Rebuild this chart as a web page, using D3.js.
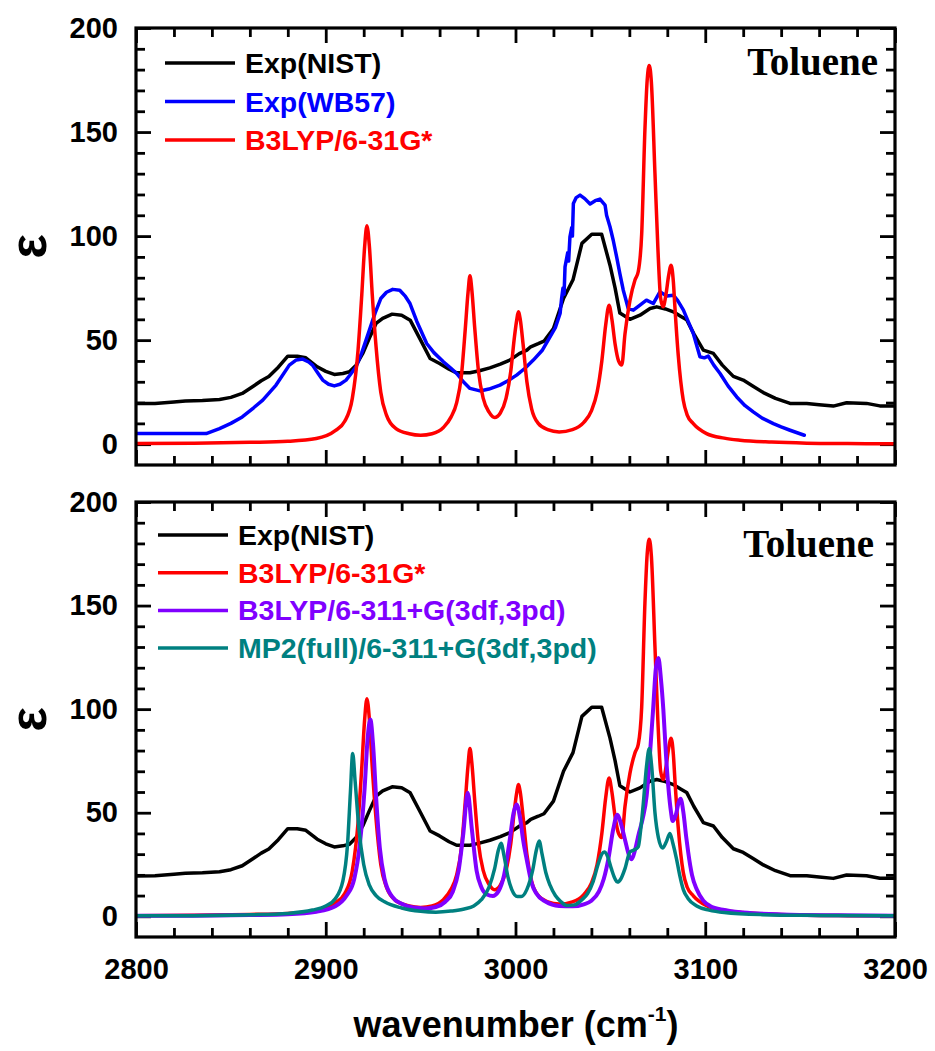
<!DOCTYPE html>
<html><head><meta charset="utf-8">
<script src="https://cdn.jsdelivr.net/npm/d3@7"></script>
<style>body{margin:0;background:#fff} svg{display:block}</style>
</head><body>
<svg id="chart" width="935" height="1051"></svg>
<script>
// ---------- data ----------
const xDomain = [2800, 3200];
const yDomain = [-10, 200];
const xMajorTicks = [2800, 2900, 3000, 3100, 3200];
const yMajorTicks = [0, 50, 100, 150, 200];
const molecule = "Toluene";
const yLabelText = "ε";
const xLabelText = "wavenumber (cm";
const xLabelSup = "-1";

const topLegend = ["Exp(NIST)", "Exp(WB57)", "B3LYP/6-31G*"];
const bottomLegend = ["Exp(NIST)", "B3LYP/6-31G*", "B3LYP/6-311+G(3df,3pd)", "MP2(full)/6-311+G(3df,3pd)"];

// [wavenumber, epsilon]
const expNIST = [[2800,19.5],[2810,19.6],[2820,20.3],[2826,20.8],[2835,21],[2844,21.5],[2850,22.5],[2856,24.4],[2862,28],[2866,30.5],[2870,32.5],[2875,37],[2880,42.3],[2885,42.3],[2889.5,41.5],[2895.5,37.2],[2900,35],[2904.5,33.5],[2909,34],[2912.5,34.8],[2916,38],[2919.5,43.6],[2923,51],[2926.5,58],[2930,60.5],[2935,62.5],[2940,62],[2944.5,59.6],[2950,50],[2955,41.2],[2960,38.8],[2965,36],[2969,34.3],[2976,34.3],[2981,35.3],[2986.5,36.7],[2992,38.5],[2997,40.4],[3002,43.5],[3006,45.2],[3008,46.8],[3012,48.3],[3015,49.5],[3020,55.6],[3025.3,70],[3030.3,79],[3035,96.5],[3040.2,100.9],[3045.4,100.9],[3049.8,86],[3052.5,75],[3055,63],[3060.3,60],[3065.6,62],[3070.9,65.2],[3074.4,66],[3079,65],[3083.2,63.6],[3087,61.5],[3090.2,59.8],[3094,53],[3099,45.2],[3104.3,43.6],[3109,38],[3114.8,32.6],[3120,30.8],[3125,28],[3130.6,24.8],[3137,22],[3144.7,19.6],[3153.5,19.6],[3160,19],[3167.5,18.3],[3174.5,19.9],[3185,19.6],[3192,18.4],[3200,18.4]];

const expWB57 = [[2800,5.1],[2837,5.1],[2844,7.5],[2850,10],[2856,13.1],[2862,17.5],[2866.8,21.2],[2873.8,28.4],[2880.8,38],[2884.5,40.5],[2887.9,40.9],[2891,39.5],[2893,38],[2896,34],[2898.4,30.8],[2901.5,28.8],[2904.5,28],[2907.5,28.8],[2910.7,30.8],[2913,33.5],[2916,37.2],[2919,44],[2923,54.8],[2926,63],[2929,70],[2932,73],[2935.3,74.4],[2939,74],[2942,71],[2944.4,67.6],[2948,59],[2953.2,48.4],[2957,44],[2962,39.6],[2966,36.5],[2969,34],[2972.5,30],[2976,26.8],[2981.3,25.6],[2986,26.5],[2991.8,28.4],[2996,30.5],[3000.6,33.2],[3005,36.5],[3009.4,40.4],[3014,45],[3018.2,51.6],[3021,56],[3023.5,62.8],[3024.3,70],[3025,75],[3025.6,72],[3026.1,85.2],[3027.5,92],[3028,88],[3028.7,99.7],[3029.6,104],[3030,100],[3030.5,115.7],[3032,118.5],[3034,119.7],[3036.5,118],[3039.3,115.4],[3042,117],[3044.5,117.8],[3047.2,114.9],[3048,110],[3049.8,104.5],[3051.5,98],[3053.3,90],[3055,82],[3056.8,74],[3058,70],[3059.4,65.2],[3062.1,64.4],[3065.6,66.8],[3069,69.2],[3072.6,67.6],[3076.1,73.2],[3079.7,71.2],[3083.2,71.6],[3085.5,69],[3088.5,64.4],[3091,59],[3093.7,53.2],[3097.2,42],[3099.5,41.5],[3101.6,42.3],[3104.5,38],[3107.8,34],[3112,28],[3116.6,22.7],[3121,18.5],[3125.3,15.5],[3130,12.5],[3135.9,9.9],[3140,8.3],[3144.7,6.7],[3152.2,4.3]];

const b3lyp631 = [[2800,0.3],[2830,0.5],[2860,0.9],[2880,1.4],[2895,2.7],[2905,6.5],[2910,11],[2914,22],[2917,45],[2919,72],[2920.5,95],[2921.7,105],[2923,95],[2924.5,72],[2926.5,47],[2929,25],[2932,14],[2937,7.5],[2944,5],[2950,4.3],[2956,5],[2962,8],[2966,13],[2969,20],[2971.5,33],[2973.5,55],[2975,73],[2976,81],[2977,74],[2978.5,56],[2980.5,35],[2983,22],[2986,15.5],[2989,12.8],[2992,15],[2995,22],[2997.5,35],[2999.5,52],[3000.7,60],[3001.5,63.6],[3002.5,60],[3004,48],[3006,30],[3008.5,17],[3012,10],[3017,7],[3023,5.9],[3030,7],[3036,10.5],[3040,16],[3043,25],[3045.5,40],[3047.5,57],[3049.3,66.8],[3050.8,60],[3052.5,48],[3054.3,40],[3056,38],[3057.7,53],[3060.3,69],[3063,79],[3064.7,83],[3066.5,101],[3068.2,151],[3069.4,175],[3070.5,182],[3071.6,174],[3073.5,130],[3075,95],[3076.5,70],[3077.8,66],[3079.3,72],[3080.7,81],[3082,86],[3083.2,78],[3084,66],[3085.8,42.4],[3088.4,21.2],[3090.5,14],[3093.7,9.9],[3100.7,5.1],[3110,2.9],[3118.3,1.9],[3135,1],[3153.5,0.5],[3175,0.3],[3200,0.2]];

const b3lyp6311 = [[2800,0.2],[2830,0.3],[2860,0.6],[2880,1],[2895,2.2],[2905,4.8],[2911,10],[2915,18],[2918,35],[2920.5,62],[2922,85],[2923.5,95],[2925,82],[2926.5,58],[2928.5,33],[2931,18],[2935,9.5],[2940,6],[2946,4.2],[2952,3.8],[2958,4.5],[2963,7],[2967,12],[2970,22],[2972.5,40],[2974.8,59.6],[2977,42],[2979.5,22],[2982,14],[2985,10.5],[2988,9.8],[2991,12],[2994,20],[2997,37],[2999,50],[3000.6,54],[3002.5,47],[3004,37],[3006,27],[3008.5,16],[3011,11],[3016,7],[3023,5],[3030,4.8],[3036,5.8],[3040,7.5],[3044,12],[3046.5,18],[3049,28],[3051.5,42],[3053.7,49],[3055.5,45],[3057.7,37],[3060,29],[3061.2,27.5],[3063,32],[3065,40],[3067,47],[3069.1,58],[3071,80],[3072.6,101],[3074,120],[3075.3,124.7],[3076.6,115],[3077.9,100],[3079.3,78],[3080.5,63],[3082,50],[3082.8,46],[3084.5,49],[3086,55],[3087,56.7],[3088.5,50],[3090,38],[3091,31],[3093,20],[3095.5,13],[3099,7.5],[3102.5,5],[3110,3],[3120,1.8],[3140,0.9],[3170,0.5],[3200,0.3]];

const mp2Full = [[2800,0.2],[2830,0.3],[2860,0.7],[2880,1.4],[2893,3],[2900,5],[2905,8.5],[2909,17],[2911.5,35],[2913,60],[2914.2,78.6],[2915.5,65],[2917.5,42],[2920,25],[2923,15],[2926.5,10],[2931,7],[2940,4],[2950,2.4],[2958,2],[2966,2.5],[2973,3.5],[2978,5],[2982,8],[2986,14],[2989,23],[2991,32],[2992.4,35.2],[2994,29],[2996,19],[2998,13],[3001,9.5],[3003,9.5],[3006,13],[3009,22],[3011,32],[3012.5,36.3],[3014,30],[3016,21],[3018.2,15],[3021,10],[3024,7],[3027,5.2],[3031,5.5],[3035,8],[3038,11],[3041,17],[3043.5,25],[3045.5,30],[3046.8,31],[3048.5,29],[3050.5,23],[3052.5,18],[3053.7,16.5],[3055.5,18],[3057.7,23],[3060.3,31],[3062.5,32],[3064.7,33.5],[3066,42],[3067.4,55],[3069,72],[3070.5,81],[3071.8,72],[3073.5,50],[3075.3,38],[3077.5,33],[3079.5,36],[3081.4,40],[3083,35],[3084.9,27.5],[3086.5,20],[3088.4,13],[3091,8.5],[3095.5,5],[3102,3],[3110,1.8],[3130,0.8],[3160,0.4],[3200,0.2]];

// ---------- drawing ----------
const L = 136, R = 895;
const svg = d3.select("#chart");
const sans = "'Liberation Sans', Arial, Helvetica, sans-serif";
const serif = "'Liberation Serif', 'Times New Roman', serif";
const colors = {
  "Exp(NIST)": "#000000",
  "Exp(WB57)": "#0000ff",
  "B3LYP/6-31G*": "#ff0000",
  "B3LYP/6-311+G(3df,3pd)": "#8000ff",
  "MP2(full)/6-311+G(3df,3pd)": "#008080"
};
const dataOf = {
  "Exp(NIST)": expNIST,
  "Exp(WB57)": expWB57,
  "B3LYP/6-31G*": b3lyp631,
  "B3LYP/6-311+G(3df,3pd)": b3lyp6311,
  "MP2(full)/6-311+G(3df,3pd)": mp2Full
};
const smooth = {"Exp(NIST)": false, "Exp(WB57)": false};

const x = d3.scaleLinear().domain(xDomain).range([L, R]);
const xMinor = d3.range(xDomain[0], xDomain[1] + 1, 20).filter(v => !xMajorTicks.includes(v));
const yMinor = d3.range(0, 201, 10).filter(v => !yMajorTicks.includes(v));

function styleAxis(g) {
  g.select(".domain").remove();
  g.selectAll(".tick line").attr("stroke", "#000").attr("stroke-width", 2.8);
  g.selectAll(".tick text")
    .attr("font-family", sans).attr("font-weight", "bold")
    .attr("font-size", 29).attr("fill", "#000");
}

function panel(cfg) {
  const y = d3.scaleLinear().domain(yDomain).range([cfg.bottom, cfg.top]);
  const clipId = "clip" + cfg.id;
  svg.append("clipPath").attr("id", clipId).append("rect")
    .attr("x", L).attr("y", cfg.top).attr("width", R - L).attr("height", cfg.bottom - cfg.top);

  const MAJ = -15, MIN = -9;
  styleAxis(svg.append("g").attr("transform", `translate(0,${cfg.bottom})`)
    .call(d3.axisBottom(x).tickValues(xMajorTicks).tickSize(MAJ).tickPadding(21)
      .tickFormat(cfg.xLabels ? d3.format("d") : () => "")));
  styleAxis(svg.append("g").attr("transform", `translate(0,${cfg.bottom})`)
    .call(d3.axisBottom(x).tickValues(xMinor).tickSize(MIN).tickFormat(() => "")));
  styleAxis(svg.append("g").attr("transform", `translate(0,${cfg.top})`)
    .call(d3.axisTop(x).tickValues(xMajorTicks).tickSize(MAJ).tickFormat(() => "")));
  styleAxis(svg.append("g").attr("transform", `translate(0,${cfg.top})`)
    .call(d3.axisTop(x).tickValues(xMinor).tickSize(MIN).tickFormat(() => "")));
  styleAxis(svg.append("g").attr("transform", `translate(${L},0)`)
    .call(d3.axisLeft(y).tickValues(yMajorTicks).tickSize(MAJ).tickPadding(18).tickFormat(d3.format("d"))));
  styleAxis(svg.append("g").attr("transform", `translate(${L},0)`)
    .call(d3.axisLeft(y).tickValues(yMinor).tickSize(MIN).tickFormat(() => "")));
  styleAxis(svg.append("g").attr("transform", `translate(${R},0)`)
    .call(d3.axisRight(y).tickValues(yMajorTicks).tickSize(MAJ).tickFormat(() => "")));
  styleAxis(svg.append("g").attr("transform", `translate(${R},0)`)
    .call(d3.axisRight(y).tickValues(yMinor).tickSize(MIN).tickFormat(() => "")));

  const gl = svg.append("g").attr("clip-path", `url(#${clipId})`);
  cfg.drawOrder.forEach(name => {
    const line = d3.line().x(d => x(d[0])).y(d => y(d[1]))
      .curve(smooth[name] === false ? d3.curveLinear : d3.curveMonotoneX);
    gl.append("path").datum(dataOf[name])
      .attr("d", line).attr("fill", "none")
      .attr("stroke", colors[name])
      .attr("stroke-width", name === "B3LYP/6-311+G(3df,3pd)" ? 4 : 3.5)
      .attr("stroke-linejoin", "round").attr("stroke-linecap", "round");
  });

  svg.append("rect").attr("x", L).attr("y", cfg.top)
    .attr("width", R - L).attr("height", cfg.bottom - cfg.top)
    .attr("fill", "none").attr("stroke", "#000").attr("stroke-width", 3.2);

  const lg = svg.append("g");
  cfg.legend.forEach((name, i) => {
    const cy = cfg.legY0 + i * cfg.legDy;
    lg.append("line").attr("x1", cfg.legX1).attr("x2", cfg.legX2)
      .attr("y1", cy).attr("y2", cy)
      .attr("stroke", colors[name]).attr("stroke-width", 3.5);
    lg.append("text").attr("x", cfg.legX2 + 10).attr("y", cy + 10)
      .attr("font-family", sans).attr("font-weight", "bold").attr("font-size", 28.5)
      .attr("fill", colors[name]).text(name);
  });

  svg.append("text").attr("x", cfg.titleX).attr("y", cfg.titleY)
    .attr("text-anchor", "end").attr("font-family", serif).attr("font-weight", "bold")
    .attr("font-size", 39).attr("fill", "#000").text(molecule);

  svg.append("text")
    .attr("transform", `translate(46,${(cfg.top + cfg.bottom) / 2}) rotate(-90)`)
    .attr("text-anchor", "middle").attr("font-family", sans).attr("font-weight", "bold")
    .attr("font-size", 52).attr("fill", "#000").text(yLabelText);
}

panel({id: "top", top: 28, bottom: 465, xLabels: false,
  drawOrder: ["Exp(NIST)", "Exp(WB57)", "B3LYP/6-31G*"],
  legend: topLegend, legX1: 165, legX2: 235, legY0: 63, legDy: 38.5,
  titleX: 878, titleY: 75});
panel({id: "bot", top: 502, bottom: 937, xLabels: true,
  drawOrder: ["Exp(NIST)", "B3LYP/6-31G*", "B3LYP/6-311+G(3df,3pd)", "MP2(full)/6-311+G(3df,3pd)"],
  legend: bottomLegend, legX1: 158, legX2: 228, legY0: 535, legDy: 37.7,
  titleX: 874, titleY: 557});

const xl = svg.append("text").attr("x", 516).attr("y", 1037)
  .attr("text-anchor", "middle").attr("font-family", sans).attr("font-weight", "bold")
  .attr("font-size", 36).attr("fill", "#000");
xl.append("tspan").text(xLabelText);
xl.append("tspan").attr("font-size", 21).attr("dy", -16).text(xLabelSup);
xl.append("tspan").attr("dy", 16).text(")");
</script>
</body></html>
